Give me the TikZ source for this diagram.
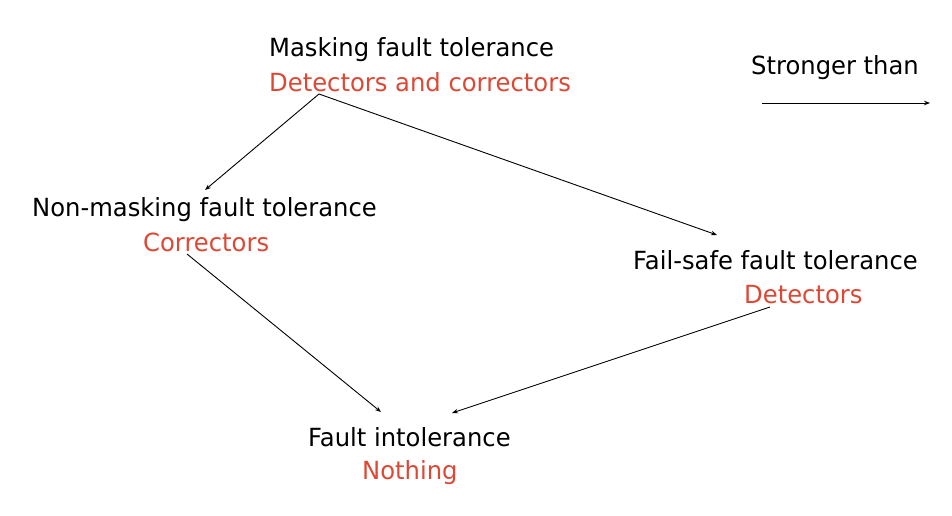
\documentclass[tikz,border=0pt]{standalone}
\usepackage{fontspec}
\setmainfont[FakeStretch=0.97]{DejaVu Sans}
\usetikzlibrary{arrows.meta}
\definecolor{nred}{RGB}{221,72,53}
\tikzset{
  lbl/.style={anchor=base west, inner sep=0pt, font=\fontsize{25}{30}\selectfont, text=black},
  redlbl/.style={lbl, text=nred},
  conn/.style={line width=0.9pt, -{Stealth[length=6pt,width=4.5pt]}}
}
\begin{document}
\begin{tikzpicture}[x=1pt,y=-1pt]
\useasboundingbox (0,0) rectangle (952,516);
% nodes
\node[lbl] (mft) at (269,57) {Masking fault tolerance};
\node[redlbl] (dc) at (269,92) {Detectors and correctors};
\node[lbl] (nmft) at (32,216) {Non-masking fault tolerance};
\node[redlbl] (corr) at (143,251) {Correctors};
\node[lbl] (fsft) at (633,269) {Fail-safe fault tolerance};
\node[redlbl] (det) at (744,303) {Detectors};
\node[lbl] (fi) at (308,446) {Fault intolerance};
\node[redlbl] (noth) at (362,479) {Nothing};
\node[lbl] (st) at (751,75) {Stronger than};
% connector end points
\coordinate (mOut) at (319,94);
\coordinate (nIn) at (205,190);
\coordinate (fIn) at (717,235);
\coordinate (nOut) at (187,254);
\coordinate (fOut) at (770,307);
\coordinate (iInL) at (381,412);
\coordinate (iInR) at (452,413);
\coordinate (legA) at (762,103);
\coordinate (legB) at (930,103);
% connectors
\draw[conn] (mOut) -- (nIn);
\draw[conn] (mOut) -- (fIn);
\draw[conn] (nOut) -- (iInL);
\draw[conn] (fOut) -- (iInR);
\draw[conn] (legA) -- (legB);
\end{tikzpicture}
\end{document}
